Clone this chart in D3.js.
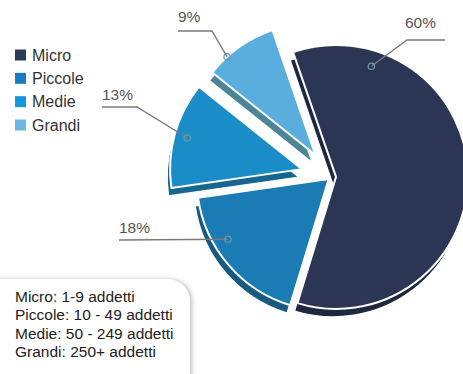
<!DOCTYPE html>
<html>
<head>
<meta charset="utf-8">
<script src="https://cdn.jsdelivr.net/npm/d3@7"></script>
<style>
  html, body { margin: 0; padding: 0; background: #fff; }
  svg { display: block; }
  text { font-family: "Liberation Sans", Arial, sans-serif; }
</style>
</head>
<body>
<svg id="chart" width="463" height="374"></svg>
<script>
// Company size breakdown
const categories = ["Micro", "Piccole", "Medie", "Grandi"];
const shares = [60, 18, 13, 9];
const valueLabels = ["60%", "18%", "13%", "9%"];
const sizeNotes = [
  "Micro: 1-9 addetti",
  "Piccole: 10 - 49 addetti",
  "Medie: 50 - 249 addetti",
  "Grandi: 250+ addetti"
];

// Styling
const topColors = ["#2a3654", "#1b7bb4", "#1a8dc8", "#5aaede"];
const sideColors = ["#1e2740", "#175a80", "#16678f", "#4b8597"];
const legendColors = ["#2c3a57", "#1a7cc0", "#1797dc", "#6cb6e8"];

// Pie geometry
const cx = 331, cy = 177, R = 132;
const depth = { dx: -3, dy: 8 };
const explode = [5, 3, 30, 27];
const startDeg = -19;

// Callout layout: anchor inside the slice (fraction of its sweep, fraction of radius)
// and the leader line's horizontal segment
const callouts = [
  { frac: 0.17, rFrac: 0.88, line: [[445, 40], [407, 40]], tx: 405, ty: 28 },
  { frac: 0.65, rFrac: 0.89, line: [[119, 240]],            tx: 119, ty: 233 },
  { frac: 0.5,  rFrac: 0.90, line: [[102, 107], [137, 107]], tx: 102, ty: 100 },
  { frac: 0.29, rFrac: 1.0,  line: [[178, 31], [212, 31]],  tx: 178, ty: 22 }
];

const svg = d3.select("#chart");

const pie = d3.pie().sort(null).value(d => d)
  .startAngle(startDeg * Math.PI / 180)
  .endAngle(startDeg * Math.PI / 180 + 2 * Math.PI);
const arcs = pie(shares);
const arcGen = d3.arc().innerRadius(0).outerRadius(R);

const polar = (a, r) => [r * Math.sin(a), -r * Math.cos(a)];

arcs.forEach((d, i) => {
  const mid = (d.startAngle + d.endAngle) / 2;
  const [ox, oy] = polar(mid, explode[i]);
  d.x = cx + ox;
  d.y = cy + oy;
});

// Drop shadow for the notes box
const defs = svg.append("defs");
const f = defs.append("filter").attr("id", "boxShadow")
  .attr("x", "-20%").attr("y", "-20%").attr("width", "140%").attr("height", "140%");
f.append("feDropShadow").attr("dx", 2).attr("dy", 0).attr("stdDeviation", 2.2)
  .attr("flood-color", "#8a8a8a").attr("flood-opacity", 0.55);

// Extruded sides first, then top faces
const slices = svg.append("g");
slices.selectAll("path.side").data(arcs).join("path")
  .attr("class", "side")
  .attr("d", arcGen)
  .attr("transform", d => `translate(${d.x + depth.dx},${d.y + depth.dy})`)
  .attr("fill", (d, i) => sideColors[i])
  .attr("stroke", "#fff").attr("stroke-width", 1.5).attr("stroke-linejoin", "round");

slices.selectAll("path.top").data(arcs).join("path")
  .attr("class", "top")
  .attr("d", arcGen)
  .attr("transform", d => `translate(${d.x},${d.y})`)
  .attr("fill", (d, i) => topColors[i])
  .attr("stroke", "#fff").attr("stroke-width", 2).attr("stroke-linejoin", "round");

// Callouts
const calloutG = svg.append("g");
arcs.forEach((d, i) => {
  const c = callouts[i];
  const a = d.startAngle + c.frac * (d.endAngle - d.startAngle);
  const [px, py] = polar(a, c.rFrac * R);
  const anchor = [d.x + px, d.y + py];
  const pts = c.line.concat([anchor]);
  calloutG.append("path")
    .attr("d", d3.line()(pts))
    .attr("fill", "none").attr("stroke", "#7a7a7a").attr("stroke-width", 1.4);
  calloutG.append("circle")
    .attr("cx", anchor[0]).attr("cy", anchor[1]).attr("r", 3.2)
    .attr("fill", "none").attr("stroke", "#6f9aa8").attr("stroke-width", 1.2);
  calloutG.append("text")
    .attr("x", c.tx).attr("y", c.ty)
    .attr("font-size", 15.5).attr("fill", "#555")
    .text(valueLabels[i]);
});

// Legend
const legend = svg.append("g");
const legendY = d3.scalePoint().domain(categories).range([55, 125]);
categories.forEach((c, i) => {
  const y = legendY(c);
  legend.append("rect")
    .attr("x", 15).attr("y", y - 5.5).attr("width", 11).attr("height", 11)
    .attr("fill", legendColors[i]);
  legend.append("text")
    .attr("x", 32).attr("y", y + 5.5)
    .attr("font-size", 16).attr("fill", "#333")
    .text(c);
});

// Notes box
svg.append("rect")
  .attr("x", -30).attr("y", 279).attr("width", 220).attr("height", 130).attr("rx", 22)
  .attr("fill", "#fff").attr("filter", "url(#boxShadow)");
const notes = svg.append("g");
sizeNotes.forEach((t, i) => {
  notes.append("text")
    .attr("x", 15).attr("y", 302 + i * 18.3)
    .attr("font-size", 15.5).attr("fill", "#222")
    .text(t);
});
</script>
</body>
</html>
